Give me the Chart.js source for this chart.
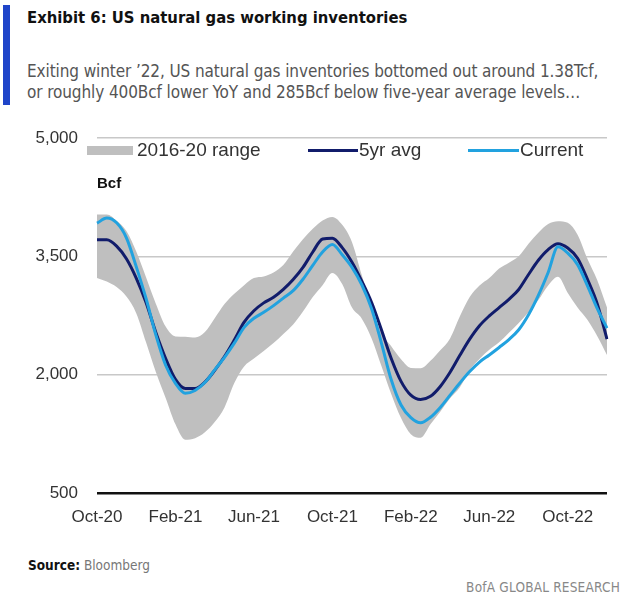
<!DOCTYPE html>
<html>
<head>
<meta charset="utf-8">
<script src="https://cdn.jsdelivr.net/npm/chart.js@4.4.0/dist/chart.umd.min.js"></script>
<style>
  html, body { margin: 0; padding: 0; background: #fff; }
  body { width: 625px; height: 598px; position: relative; overflow: hidden; font-family: "DejaVu Sans Condensed", "Liberation Sans", sans-serif; }
  .bar { position: absolute; left: 3px; top: 5px; width: 7px; height: 100px; background: #1f45c9; }
  .title { position: absolute; left: 27px; top: 8px; font-size: 16.5px; font-weight: bold; color: #111; white-space: nowrap; }
  .sub { position: absolute; left: 27px; font-size: 17px; color: #555; white-space: nowrap; letter-spacing: -0.1px; }
  .leg { position: absolute; font-family: "Liberation Sans", sans-serif; font-size: 19px; color: #333; white-space: nowrap; }
  .sw { position: absolute; }
  .bcf { position: absolute; left: 97px; top: 174px; font-family: "Liberation Sans", sans-serif; font-weight: bold; font-size: 15px; color: #111; }
  .src { position: absolute; left: 28px; top: 557px; font-size: 13.5px; color: #777; }
  .src b { color: #111; }
  .bofa { position: absolute; right: 5px; top: 579px; font-size: 13.5px; color: #888; letter-spacing: 0.2px; }
  #wrap { position: absolute; left: 0; top: 100px; width: 625px; height: 450px; }
</style>
</head>
<body>
<div class="bar"></div>
<div class="title">Exhibit 6: US natural gas working inventories</div>
<div class="sub" style="top:61px">Exiting winter ’22, US natural gas inventories bottomed out around 1.38Tcf,</div>
<div class="sub" style="top:82px">or roughly 400Bcf lower YoY and 285Bcf below five-year average levels…</div>
<div id="wrap"><canvas id="c" width="625" height="450"></canvas></div>
<div class="sw" style="left:87px;top:146px;width:46px;height:9px;background:#bfbfbf"></div>
<div class="leg" style="left:137px;top:139px">2016-20 range</div>
<div class="sw" style="left:308px;top:149px;width:50px;height:3px;background:#111c6b"></div>
<div class="leg" style="left:359px;top:139px">5yr avg</div>
<div class="sw" style="left:468px;top:149px;width:51px;height:3px;background:#22a2df"></div>
<div class="leg" style="left:520px;top:139px">Current</div>
<div class="bcf">Bcf</div>
<div class="src"><b>Source:</b> Bloomberg</div>
<div class="bofa">BofA GLOBAL RESEARCH</div>
<script>
// Half-monthly observations, Oct-2020 to Dec-2022 (Bcf)
const tickLabels = ['Oct-20', 'Feb-21', 'Jun-21', 'Oct-21', 'Feb-22', 'Jun-22', 'Oct-22'];
const current = [3920,3985,3925,3735,3370,2965,2505,2120,1890,1765,1800,1900,2060,2220,2400,2600,2715,2790,2875,2970,3065,3210,3385,3555,3650,3520,3360,3140,2835,2400,1935,1615,1455,1390,1460,1585,1740,1895,2040,2160,2250,2345,2445,2570,2760,3005,3295,3620,3540,3395,3130,2840,2590];
const avg5yr = [3710,3710,3630,3470,3225,2915,2535,2205,1940,1825,1825,1905,2055,2230,2440,2665,2810,2910,2980,3080,3205,3360,3555,3720,3730,3610,3425,3185,2915,2570,2205,1915,1740,1685,1725,1850,2030,2245,2450,2620,2745,2850,2955,3080,3270,3450,3585,3660,3605,3475,3210,2900,2450];
const rangeHigh = [4030,4030,3950,3820,3560,3235,2900,2610,2485,2480,2470,2540,2715,2895,3025,3135,3225,3245,3295,3390,3560,3715,3850,3955,4000,3900,3680,3260,2860,2530,2360,2195,2085,2080,2175,2310,2460,2740,2985,3130,3225,3345,3420,3500,3660,3800,3910,3945,3925,3775,3470,3200,2850];
const rangeLow = [3225,3180,3110,2990,2780,2410,2035,1705,1370,1175,1195,1270,1400,1585,1895,2105,2205,2300,2400,2515,2635,2800,2985,3135,3290,3150,2850,2710,2460,2110,1755,1450,1245,1200,1370,1530,1700,1840,2060,2200,2315,2410,2530,2655,2790,2945,3130,3240,3035,2850,2695,2490,2250];
const yTicks = [500, 2000, 3500, 5000];

// category labels: 1st and 15th of each month from Oct-2020
const periods = current.map((_, i) => {
  const d = new Date(Date.UTC(2020, 9 + Math.floor(i / 2), i % 2 ? 15 : 1));
  return d.toISOString().slice(0, 10);
});

const lineCommon = { pointRadius: 0, borderWidth: 3, cubicInterpolationMode: 'monotone', fill: false };

new Chart(document.getElementById('c'), {
  type: 'line',
  data: {
    labels: periods,
    datasets: [
      Object.assign({ label: 'Current', data: current, borderColor: '#22a2df' }, lineCommon),
      Object.assign({ label: '5yr avg', data: avg5yr, borderColor: '#111c6b' }, lineCommon),
      { label: '2016-20 range', data: rangeHigh, borderWidth: 0, pointRadius: 0, backgroundColor: '#bfbfbf', fill: '+1', cubicInterpolationMode: 'monotone' },
      { label: 'range low', data: rangeLow, borderWidth: 0, pointRadius: 0, backgroundColor: '#bfbfbf', fill: false, cubicInterpolationMode: 'monotone' }
    ]
  },
  options: {
    responsive: false,
    animation: false,
    layout: { padding: { top: 38, right: 18, bottom: 0, left: 0 } },
    plugins: { legend: { display: false }, tooltip: { enabled: false } },
    scales: {
      x: {
        offset: false,
        grid: { display: false, drawTicks: false },
        border: { display: false },
        ticks: {
          autoSkip: false, maxRotation: 0, padding: 14, color: '#333',
          font: { family: 'Liberation Sans', size: 17 },
          callback: (v, i) => (i % 8 === 0 ? tickLabels[i / 8] : null)
        },
        afterFit: s => { s.height = 57; }
      },
      y: {
        min: 500, max: 5000,
        afterBuildTicks: s => { s.ticks = yTicks.map(v => ({ value: v })); },
        grid: {
          drawTicks: false,
          color: c => (c.tick && c.tick.value === 500 ? '#111' : '#c8c8c8'),
          lineWidth: c => (c.tick && c.tick.value === 500 ? 2.5 : 1.5)
        },
        border: { display: false },
        ticks: {
          padding: 19, color: '#333',
          font: { family: 'Liberation Sans', size: 17 },
          callback: v => v.toLocaleString('en-US')
        },
        afterFit: s => { s.width = 97; }
      }
    }
  }
});
</script>
</body>
</html>
